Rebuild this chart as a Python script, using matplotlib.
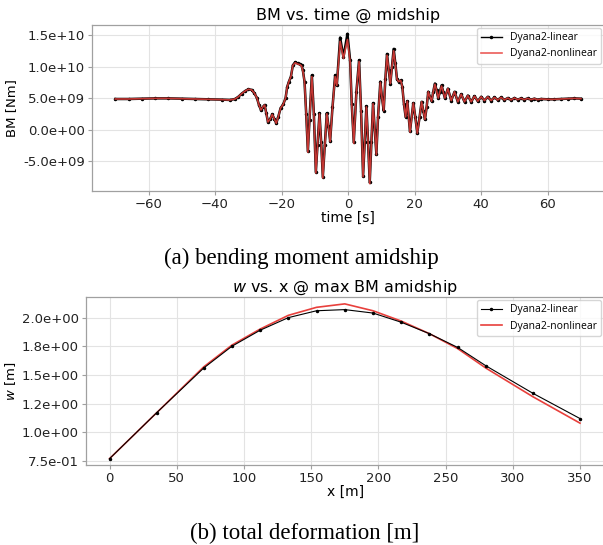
import numpy as np
import matplotlib
matplotlib.use("Agg")
import matplotlib.pyplot as plt
from matplotlib.ticker import FormatStrFormatter

# ---------------- data: (a) bending moment vs time (values in 1e9 Nm) ----------------
time_s = [-70, -66, -62, -58, -54, -50, -46, -42, -38, -35.5, -34, -33, -32, -31, -30, -29,
          -28.2, -27.4, -26.8, -26.2, -25.6, -25.1, -24.6, -24.1, -23.5, -22.8, -22.2, -21.6,
          -21.0, -20.3, -19.5, -18.8, -18.3, -17.8, -17.2, -16.6, -15.9, -15.2, -14.5, -14.0,
          -13.6, -13.1, -12.6, -12.1, -11.6, -10.9, -10.3, -9.7, -9.2, -8.6, -8.1, -7.6, -7.0,
          -6.4, -5.9, -5.4, -4.7, -3.9, -3.4, -2.4, -1.4, -0.2, 0.6, 1.1, 1.7, 2.5, 3.3, 3.9,
          4.5, 5.0, 5.5, 6.0, 6.5, 7.0, 7.5, 8.0, 8.5, 9.0, 9.7, 10.2, 10.7, 11.2, 11.7, 12.2,
          12.7, 13.2, 13.7, 14.2, 14.7, 15.2, 15.8, 16.3, 16.8, 17.3, 17.8, 18.6, 19.6, 20.2,
          20.8, 21.5, 22.1, 22.6, 23.1, 23.6, 24.1, 24.6, 25.1, 25.6, 26.1, 26.6, 27.1, 27.6,
          28.1, 28.6, 29.1, 30.0, 31.0, 32.0, 33.0, 34.0, 35.0, 36.0, 37.0, 38.0, 39.0, 40.0,
          41.0, 42.0, 43.0, 44.0, 45.0, 46.0, 47.0, 48.0, 49.0, 50.0, 51.0, 52.0, 53.0, 54.0,
          55.0, 56.0, 57.0, 58.0, 60.0, 62.0, 64.0, 66.0, 68.0, 70.0]

bm_linear = [4.85, 4.85, 4.9, 4.95, 4.95, 4.9, 4.85, 4.8, 4.75, 4.7, 4.85, 5.2, 5.7, 6.1, 6.4, 6.3,
             5.8, 5.0, 3.9, 3.1, 3.6, 3.9, 2.6, 1.2, 1.6, 2.4, 1.7, 1.0,
             2.0, 3.4, 4.0, 5.0, 6.8, 7.6, 8.4, 10.2, 10.7, 10.5, 10.4, 10.2,
             9.4, 7.6, 2.5, -3.4, 1.5, 8.6, 2.5, -6.7, -2.5, 2.6, -2.0, -7.5, -2.5,
             2.6, 0.5, -1.8, 3.5, 8.6, 7.0, 14.6, 11.5, 15.2, 11.0, 4.0, -2.0, 6.0, 11.0, 3.0,
             -7.3, -2.0, 3.7, -2.0, -8.4, -2.0, 4.2, 0.0, -3.9, 2.0, 7.6, 5.0, 3.0, 8.0, 12.0, 9.5,
             7.3, 10.0, 12.8, 10.5, 8.0, 7.6, 7.8, 6.8, 4.0, 2.0, 4.5, -0.3, 4.2, 2.0,
             -0.5, 2.0, 4.4, 3.0, 1.6, 3.5, 6.0, 5.2, 4.5, 6.0, 7.3, 6.2, 5.0, 6.0,
             7.0, 6.0, 5.0, 6.5, 4.6, 6.0, 4.4, 5.6, 4.4, 5.4, 4.4, 5.3, 4.5, 5.2,
             4.6, 5.2, 4.6, 5.1, 4.7, 5.1, 4.7, 5.0, 4.7, 5.0, 4.75, 4.95, 4.75, 4.95,
             4.75, 4.9, 4.75, 4.85, 4.8, 4.8, 4.85, 4.9, 4.95, 4.9]

bm_nonlinear = [4.85, 4.85, 4.9, 4.95, 4.95, 4.9, 4.85, 4.8, 4.75, 4.7, 4.85, 5.2, 5.7, 6.1, 6.4, 6.3,
                5.8, 5.0, 3.9, 3.1, 3.6, 3.9, 2.6, 1.2, 1.6, 2.4, 1.7, 1.0,
                2.0, 3.4, 4.0, 5.0, 6.8, 7.6, 8.4, 10.2, 10.6, 10.4, 10.3, 10.1,
                9.3, 7.6, 2.5, -3.6, 1.5, 8.4, 2.5, -6.9, -2.5, 2.5, -2.0, -7.7, -2.5,
                2.5, 0.5, -1.9, 3.5, 8.4, 7.0, 14.0, 11.3, 14.3, 10.8, 4.0, -2.2, 6.0, 10.8, 3.0,
                -7.5, -2.0, 3.6, -2.0, -8.6, -2.0, 4.1, 0.0, -4.0, 2.0, 7.5, 5.0, 3.0, 8.0, 11.8, 9.5,
                7.3, 10.0, 12.5, 10.4, 8.0, 7.6, 7.8, 6.8, 4.0, 2.0, 4.5, -0.4, 4.2, 2.0,
                -0.6, 2.0, 4.4, 3.0, 1.6, 3.5, 6.0, 5.2, 4.5, 6.0, 7.2, 6.2, 5.0, 6.0,
                6.9, 6.0, 5.0, 6.5, 4.6, 6.0, 4.4, 5.6, 4.4, 5.4, 4.4, 5.3, 4.5, 5.2,
                4.6, 5.2, 4.6, 5.1, 4.7, 5.1, 4.7, 5.0, 4.7, 5.0, 4.75, 4.95, 4.75, 4.95,
                4.75, 4.9, 4.75, 4.85, 4.8, 4.8, 4.85, 4.9, 4.95, 4.9]
BM_UNIT = 1e9

# ---------------- data: (b) deformation w vs x ----------------
x_m = [0, 35, 70, 91, 112, 133, 154, 175, 196, 217, 238, 259, 280, 315, 350]
w_linear = [0.77, 1.17, 1.56, 1.75, 1.89, 2.00, 2.06, 2.07, 2.04, 1.96, 1.86, 1.74, 1.58, 1.34, 1.12]
w_nonlinear = [0.77, 1.17, 1.57, 1.76, 1.90, 2.02, 2.09, 2.12, 2.06, 1.97, 1.86, 1.73, 1.56, 1.31, 1.08]

w_ticks = [0.75, 1.0, 1.25, 1.5, 1.75, 2.0]
bm_ticks = [-5e9, 0, 5e9, 1e10, 1.5e10]

labels = ["Dyana2-linear", "Dyana2-nonlinear"]
captions = ["(a) bending moment amidship", "(b) total deformation [m]"]

# ---------------- figure ----------------
plt.rcParams['font.family'] = ['DejaVu Sans']
W, H = 603, 545
fig = plt.figure(figsize=(W / 100, H / 100), dpi=100)

SPINE = '#a0a0a0'
GRID = '#e3e3e3'
RED = '#e8403c'


def style(ax):
    ax.grid(True, color=GRID, linewidth=0.8)
    ax.set_axisbelow(True)
    for s in ax.spines.values():
        s.set_color(SPINE)
        s.set_linewidth(0.9)
    ax.tick_params(axis='both', labelcolor='#222222', labelsize=9.5, length=3, width=0.8,
                   color=SPINE, pad=2)


# top axes
ax1 = fig.add_axes([92 / W, 1 - 191 / H, (W - 92) / W + 0.002, 166 / H])
t = np.array(time_s)
ax1.plot(t, np.array(bm_linear) * BM_UNIT, color='black', lw=1.8, marker='.', ms=3, zorder=2,
         label=labels[0])
ax1.plot(t, np.array(bm_nonlinear) * BM_UNIT, color=RED, lw=1.2, alpha=0.85, zorder=3,
         label=labels[1])
ax1.set_xlim(-77, 77)
ax1.set_ylim(-9.76e9, 16.6e9)
ax1.set_yticks(bm_ticks)
ax1.yaxis.set_major_formatter(FormatStrFormatter('%.1e'))
ax1.set_xticks([-60, -40, -20, 0, 20, 40, 60])
ax1.set_title("BM vs. time @ midship", fontsize=11.5, pad=4)
ax1.set_xlabel("time [s]", fontsize=10, labelpad=0)
ax1.set_ylabel("BM [Nm]", fontsize=9.5)
ax1.yaxis.set_label_coords((18 - 92) / (W - 92), 0.5)
style(ax1)
h, l = ax1.get_legend_handles_labels()
leg = ax1.legend(h, l, loc='upper right',
                 prop={'family': 'Open Sans', 'size': 7.5}, frameon=True, fancybox=True,
                 edgecolor='#cccccc', borderaxespad=0.3)
leg.get_lines()[0].set_linewidth(1.0)

# bottom axes
ax2 = fig.add_axes([86 / W, 1 - 465 / H, (W - 86) / W + 0.002, 168 / H])
ax2.plot(x_m, w_nonlinear, color=RED, lw=1.2, zorder=2, label=labels[1])
ax2.plot(x_m, w_linear, color='black', lw=0.8, marker='.', ms=3, zorder=3, label=labels[0])
ax2.set_xlim(-17.5, 368)
ax2.set_ylim(0.715, 2.18)
ax2.set_yticks(w_ticks)
ax2.yaxis.set_major_formatter(FormatStrFormatter('%.1e'))
ax2.set_xticks([0, 50, 100, 150, 200, 250, 300, 350])
ax2.set_title("$w$ vs. x @ max BM amidship", fontsize=11.5, pad=4)
ax2.set_xlabel("x [m]", fontsize=10, labelpad=0)
ax2.set_ylabel("$w$ [m]", fontsize=9.5)
ax2.yaxis.set_label_coords((18 - 86) / (W - 86), 0.5)
style(ax2)
h, l = ax2.get_legend_handles_labels()
ax2.legend([h[1], h[0]], [l[1], l[0]], loc='upper right',
           prop={'family': 'Open Sans', 'size': 7.5}, frameon=True, fancybox=True,
           edgecolor='#cccccc', borderaxespad=0.3)

fig.text(301 / W, 1 - 258 / H, captions[0], ha='center', va='center',
         family='Liberation Serif', fontsize=16.5)
fig.text(305 / W, 1 - 533 / H, captions[1], ha='center', va='center',
         family='Liberation Serif', fontsize=16.5)

fig.savefig("out.png", dpi=100)
